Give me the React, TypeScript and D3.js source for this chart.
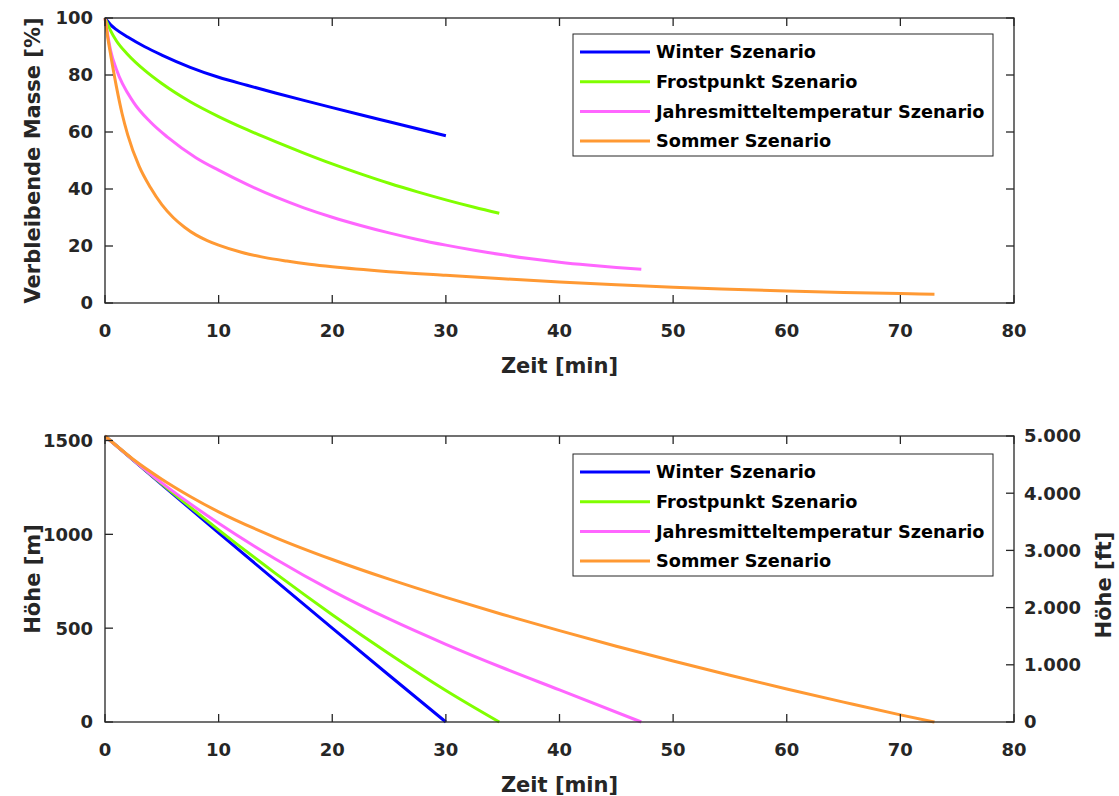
import React from "react";
import * as d3 from "d3";

// time axis (min) and tick values
const timeTicks = [0, 10, 20, 30, 40, 50, 60, 70, 80];
const massTicks = [0, 20, 40, 60, 80, 100];
const heightTicks = [0, 500, 1000, 1500];
const feetTicks = [0, 1000, 2000, 3000, 4000, 5000];

const scenarios = [
  "Winter Szenario",
  "Frostpunkt Szenario",
  "Jahresmitteltemperatur Szenario",
  "Sommer Szenario",
];
const colors = ["#0000ff", "#80ff00", "#ff66ff", "#ff9933"];

// remaining mass [%] over time [min]
const massWinter = [
  [0, 100], [0.5, 97.6], [1, 95.9], [2, 93.3], [3.5, 89.9], [5, 87.0],
  [7.5, 82.7], [10, 79.2], [12.5, 76.4], [15, 73.7], [17.5, 71.1], [20, 68.55],
  [22.5, 66.05], [25, 63.6], [27.5, 61.15], [30, 58.7],
];
const massFrost = [
  [0, 100], [0.5, 95.5], [1, 92], [2, 87.2], [3.5, 81.6], [5, 77], [7.5, 70.6],
  [10, 65.4], [12.5, 60.8], [15, 56.6], [17.5, 52.6], [20, 48.8], [22.5, 45.3],
  [25, 42.0], [27.5, 39.0], [30, 36.2], [32.5, 33.6], [34.7, 31.5],
];
const massMean = [
  [0, 100], [0.5, 88.5], [1, 82], [2.5, 70.5], [4, 63.5], [5.5, 58.2], [8, 51.0],
  [10, 46.6], [12.5, 41.6], [15, 37.2], [17.5, 33.4], [20, 30.1], [22.5, 27.2],
  [25, 24.6], [27.5, 22.3], [30, 20.3], [32.5, 18.5], [35, 16.9], [37.5, 15.5],
  [40, 14.3], [42.5, 13.3], [45, 12.45], [47.2, 11.8],
];
const massSummer = [
  [0, 100], [0.25, 93], [0.5, 87], [1, 76], [1.5, 66.5], [2, 59], [3, 48],
  [4, 40.5], [5, 34.5], [6, 30], [7, 26.6], [8, 23.9], [9, 21.9], [10, 20.3],
  [12, 17.8], [14, 16.0], [16, 14.7], [18, 13.6], [20, 12.7], [25, 11.0],
  [30, 9.7], [35, 8.5], [40, 7.4], [45, 6.4], [50, 5.5], [55, 4.8], [60, 4.2],
  [65, 3.7], [70, 3.3], [73, 3.1],
];

// height [m] over time [min]
const heightWinter = [
  [0, 1524], [5, 1265], [10, 1008], [15, 753], [20, 500], [25, 249], [30, 0],
];
const heightFrost = [
  [0, 1524], [5, 1269], [10, 1024], [15, 792], [20, 572], [25, 364],
  [30, 168], [34.7, 0],
];
const heightMean = [
  [0, 1524], [5, 1274], [10, 1059], [15, 869], [20, 699], [25, 549],
  [30, 414], [35, 289], [40, 171], [47.2, 0],
];
const heightSummer = [
  [0, 1524], [2.5, 1399], [5, 1294], [7.5, 1202], [10, 1120], [15, 983],
  [20, 866], [25, 761], [30, 664], [35, 573], [40, 487], [45, 404],
  [50, 325], [55, 249], [60, 176], [65, 106], [70, 38], [73, 0],
];

const massSeries = [massWinter, massFrost, massMean, massSummer];
const heightSeries = [heightWinter, heightFrost, heightMean, heightSummer];

const FONT = "'DejaVu Sans', sans-serif";
const INK = "#262626";

const left = 105;
const right = 1014;

const fmtFt = d3.formatLocale({
  decimal: ",",
  thousands: ".",
  grouping: [3],
  currency: ["", "€"],
}).format(",d");

function Legend({ x, y }: { x: number; y: number }) {
  return (
    <g transform={`translate(${x},${y})`}>
      <rect width={420} height={122} fill="#fff" stroke={INK} strokeWidth={1} />
      {scenarios.map((s, i) => (
        <g key={s} transform={`translate(0,${18 + i * 29.7})`}>
          <line x1={7} x2={77} stroke={colors[i]} strokeWidth={3} />
          <text x={83} dy="0.35em" fontSize={17.7} fontWeight="bold" fill="#000" fontFamily={FONT}>
            {s}
          </text>
        </g>
      ))}
    </g>
  );
}

function Panel({
  top,
  bottom,
  yScale,
  yTicks,
  series,
  yLabel,
  legendY,
  feet,
}: {
  top: number;
  bottom: number;
  yScale: d3.ScaleLinear<number, number>;
  yTicks: number[];
  series: number[][][];
  yLabel: string;
  legendY: number;
  feet?: d3.ScaleLinear<number, number>;
}) {
  const x = d3.scaleLinear().domain([0, 80]).range([left, right]);
  const line = d3
    .line<number[]>()
    .x((d) => x(d[0]))
    .y((d) => yScale(d[1]))
    .curve(d3.curveMonotoneX);
  const mid = (top + bottom) / 2;

  return (
    <g>
      <defs>
        <clipPath id={`clip${top}`}>
          <rect x={left - 2} y={top - 2} width={right - left + 4} height={bottom - top + 4} />
        </clipPath>
      </defs>
      <g clipPath={`url(#clip${top})`}>
        {series.map((d, i) => (
          <path key={i} d={line(d) ?? ""} fill="none" stroke={colors[i]} strokeWidth={3} strokeLinejoin="round" />
        ))}
      </g>
      <rect x={left} y={top} width={right - left} height={bottom - top} fill="none" stroke={INK} strokeWidth={1.3} />
      {timeTicks.map((t) => (
        <g key={t}>
          <line x1={x(t)} x2={x(t)} y1={bottom} y2={bottom - 8} stroke={INK} strokeWidth={1.3} />
          <line x1={x(t)} x2={x(t)} y1={top} y2={top + 8} stroke={INK} strokeWidth={1.3} />
          <text x={x(t)} y={bottom + 34} textAnchor="middle" fontSize={18} fontWeight="bold" fill={INK} fontFamily={FONT}>
            {t}
          </text>
        </g>
      ))}
      {yTicks.map((v) => (
        <g key={v}>
          <line x1={left} x2={left + 8} y1={yScale(v)} y2={yScale(v)} stroke={INK} strokeWidth={1.3} />
          {!feet && (
            <line x1={right} x2={right - 8} y1={yScale(v)} y2={yScale(v)} stroke={INK} strokeWidth={1.3} />
          )}
          <text x={left - 12} y={yScale(v)} dy="0.36em" textAnchor="end" fontSize={18} fontWeight="bold" fill={INK} fontFamily={FONT}>
            {v}
          </text>
        </g>
      ))}
      {feet &&
        feetTicks.map((f) => (
          <g key={f}>
            <line x1={right} x2={right - 8} y1={feet(f)} y2={feet(f)} stroke={INK} strokeWidth={1.3} />
            <text x={right + 10} y={feet(f)} dy="0.36em" fontSize={18} fontWeight="bold" fill={INK} fontFamily={FONT}>
              {fmtFt(f)}
            </text>
          </g>
        ))}
      <text x={(left + right) / 2} y={bottom + 70} textAnchor="middle" fontSize={21} fontWeight="bold" fill={INK} fontFamily={FONT}>
        Zeit [min]
      </text>
      <text transform={`translate(32,${mid}) rotate(-90)`} dy="0.36em" textAnchor="middle" fontSize={21} fontWeight="bold" fill={INK} fontFamily={FONT}>
        {yLabel}
      </text>
      {feet && (
        <text transform={`translate(1103,${mid + 6}) rotate(-90)`} dy="0.36em" textAnchor="middle" fontSize={21} fontWeight="bold" fill={INK} fontFamily={FONT}>
          Höhe [ft]
        </text>
      )}
      <Legend x={573} y={legendY} />
    </g>
  );
}

export default function App() {
  const massY = d3.scaleLinear().domain([0, 100]).range([303, 18]);
  const heightY = d3.scaleLinear().domain([0, 1524]).range([722, 436]);
  const feetY = d3.scaleLinear().domain([0, 5000]).range([722, 436]);

  return (
    <svg width={1119} height={796} style={{ position: "absolute", left: 0, top: 0, background: "#fff" }}>
      <rect width={1119} height={796} fill="#fff" />
      <Panel top={18} bottom={303} yScale={massY} yTicks={massTicks} series={massSeries} yLabel="Verbleibende Masse [%]" legendY={34} />
      <Panel top={436} bottom={722} yScale={heightY} yTicks={heightTicks} series={heightSeries} yLabel="Höhe [m]" legendY={454} feet={feetY} />
    </svg>
  );
}
